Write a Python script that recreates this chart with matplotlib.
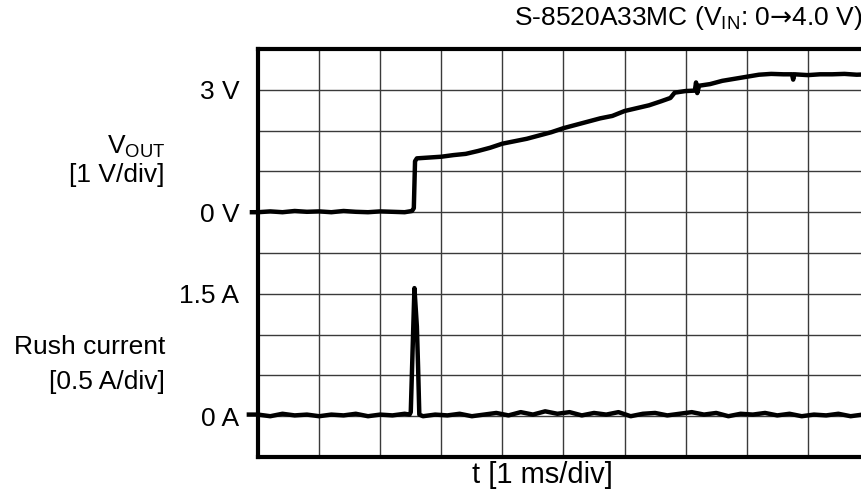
import matplotlib
matplotlib.use("Agg")
import matplotlib.pyplot as plt

plt.rcParams['font.family'] = ['Liberation Sans', 'DejaVu Sans']
plt.rcParams['mathtext.fontset'] = 'custom'
plt.rcParams['mathtext.rm'] = 'Liberation Sans'
plt.rcParams['mathtext.it'] = 'Liberation Sans:italic'
plt.rcParams['mathtext.sf'] = 'DejaVu Sans'

# time axis in ms (1 ms/div, 10 divisions)
t_vout = [-0.1, 0.0, 0.2, 0.4, 0.6, 0.8, 1.0, 1.2, 1.4, 1.6, 1.8, 2.0, 2.2, 2.4,
          2.52, 2.55, 2.57, 2.60, 2.8, 3.0, 3.2, 3.4, 3.6, 3.8, 4.0, 4.2, 4.4,
          4.6, 4.8, 5.0, 5.2, 5.4, 5.6, 5.8, 6.0, 6.2, 6.4, 6.6, 6.75, 6.82,
          7.0, 7.15, 7.17, 7.19, 7.22, 7.4, 7.6, 7.8, 8.0, 8.2, 8.4, 8.6, 8.74,
          8.76, 8.78, 9.0, 9.2, 9.4, 9.6, 9.8, 10.0, 10.1]
vout = [0.00, 0.00, 0.02, 0.00, 0.03, 0.01, 0.02, 0.00, 0.03, 0.01, 0.00, 0.02,
        0.01, 0.00, 0.03, 0.10, 1.25, 1.32, 1.34, 1.36, 1.40, 1.43, 1.50, 1.58,
        1.68, 1.74, 1.80, 1.88, 1.96, 2.06, 2.14, 2.22, 2.30, 2.36, 2.48, 2.55,
        2.62, 2.72, 2.80, 2.93, 2.97, 2.98, 3.18, 2.92, 3.10, 3.14, 3.22, 3.27,
        3.32, 3.37, 3.39, 3.38, 3.38, 3.25, 3.38, 3.36, 3.38, 3.38, 3.39, 3.37,
        3.38, 3.38]

t_cur = [-0.15, 0.0, 0.2, 0.4, 0.6, 0.8, 1.0, 1.2, 1.4, 1.6, 1.8, 2.0, 2.2,
         2.4, 2.48, 2.50, 2.56, 2.60, 2.62, 2.64, 2.7, 2.9, 3.1, 3.3, 3.5, 3.7,
         3.9, 4.1, 4.3, 4.5, 4.7, 4.9, 5.1, 5.3, 5.5, 5.7, 5.9, 6.1, 6.3, 6.5,
         6.7, 6.9, 7.1, 7.3, 7.5, 7.7, 7.9, 8.1, 8.3, 8.5, 8.7, 8.9, 9.1, 9.3,
         9.5, 9.7, 9.9, 10.1]
current = [0.02, 0.02, 0.00, 0.03, 0.01, 0.02, 0.00, 0.02, 0.01, 0.03, 0.00,
           0.02, 0.01, 0.03, 0.02, 0.05, 1.57, 1.10, 0.60, 0.02, 0.00, 0.02,
           0.01, 0.03, 0.00, 0.02, 0.04, 0.01, 0.05, 0.02, 0.06, 0.03, 0.05,
           0.01, 0.04, 0.02, 0.05, 0.00, 0.03, 0.04, 0.01, 0.03, 0.05, 0.02,
           0.04, 0.00, 0.03, 0.02, 0.04, 0.01, 0.03, 0.00, 0.02, 0.01, 0.03,
           0.00, 0.02, 0.02]

# screen divisions: VOUT 0 V at div 6 (1 V/div), current 0 A at div 1 (0.5 A/div)
vout_div = [6 + v for v in vout]
cur_div = [1 + i / 0.5 for i in current]

tick_pos = [1, 4, 6, 9]
tick_labels = ['0 A', '1.5 A', '0 V', '3 V']

fig = plt.figure(figsize=(8.61, 4.92), dpi=100)
ax = fig.add_axes([0.2997, 0.0711, 0.7095, 0.8293])

ax.set_xlim(0, 10)
ax.set_ylim(0, 10)
for k in range(1, 10):
    ax.axvline(k, color='#3a3a3a', lw=1.0, zorder=1)
    ax.axhline(k, color='#3a3a3a', lw=1.0, zorder=1)

ax.plot(t_vout, vout_div, color='black', lw=3.2, clip_on=False, zorder=3)
ax.plot(t_cur, cur_div, color='black', lw=3.2, clip_on=False, zorder=3)

ax.set_xticks([])
ax.set_yticks(tick_pos)
ax.set_yticklabels(tick_labels, fontsize=19)
ax.tick_params(axis='y', length=0, pad=13.5)
for s in ax.spines.values():
    s.set_linewidth(3)

fig.text(0.1916, 0.7012, r'V$_{\mathrm{OUT}}$', ha='right', va='center', fontsize=19)
fig.text(0.1916, 0.6443, '[1 V/div]', ha='right', va='center', fontsize=19)
fig.text(0.1916, 0.2947, 'Rush current', ha='right', va='center', fontsize=19)
fig.text(0.1916, 0.2236, '[0.5 A/div]', ha='right', va='center', fontsize=19)
fig.text(0.6295, 0.0346, 't [1 ms/div]', ha='center', va='center', fontsize=21)
fig.text(1.002, 0.963, r'S-8520A33MC (V$_{\mathrm{IN}}$: 0$\mathsf{→}$4.0 V)',
         ha='right', va='center', fontsize=19)

fig.savefig('out.png', dpi=100)
